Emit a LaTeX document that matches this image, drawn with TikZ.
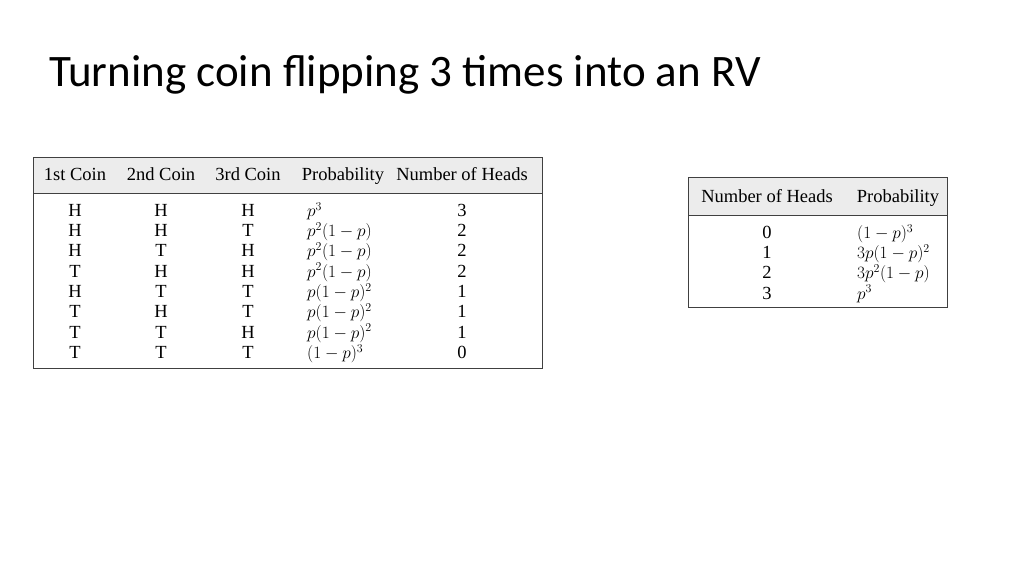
\documentclass[tikz,border=0pt]{standalone}
\usepackage{fontspec}
\setmainfont{Liberation Serif}
\newfontfamily\titlefont{Carlito}
\definecolor{headgray}{RGB}{236,236,236}
\tikzset{
  cell/.style={inner sep=0pt,text height=13pt,text depth=4pt,font=\fontsize{18.5}{20}\selectfont},
  probcell/.style={cell,anchor=west},
  frame/.style={draw=black!75,line width=0.9pt}
}
\begin{document}
\begin{tikzpicture}[x=1pt,y=-1pt]
  \useasboundingbox (0,0) rectangle (1024,576);
  \node[anchor=base west,inner sep=0pt,font=\titlefont\fontsize{45}{50}\selectfont] (title) at (49,86) {Turning coin flipping 3 times into an RV};
  % left table
  \fill[headgray] (33,157) rectangle (542,193);
  \draw[frame] (33,157) rectangle (542,368);
  \draw[frame] (33,193) -- (542,193);
  \node[cell] (h1) at (75,176) {1st Coin};
  \node[cell] (h2) at (161,176) {2nd Coin};
  \node[cell] (h3) at (248,176) {3rd Coin};
  \node[cell] (hp) at (343,176) {Probability};
  \node[cell] (hn) at (462,176) {Number of Heads};
  \foreach \a/\b/\c/\pr/\n [count=\i] in {H/H/H/{$p^3$}/3, H/H/T/{$p^2(1-p)$}/2, H/T/H/{$p^2(1-p)$}/2, T/H/H/{$p^2(1-p)$}/2, H/T/T/{$p(1-p)^2$}/1, T/H/T/{$p(1-p)^2$}/1, T/T/H/{$p(1-p)^2$}/1, T/T/T/{$(1-p)^3$}/0}{
    \node[cell] (a\i) at (75,{191.5+20.3*\i}) {\a};
    \node[cell] (b\i) at (161,{191.5+20.3*\i}) {\b};
    \node[cell] (c\i) at (248,{191.5+20.3*\i}) {\c};
    \node[probcell] (p\i) at (307,{191.5+20.3*\i}) {\pr};
    \node[cell] (n\i) at (462,{191.5+20.3*\i}) {\n};
  }
  % right table
  \fill[headgray] (688,177) rectangle (947,215);
  \draw[frame] (688,177) rectangle (947,307);
  \draw[frame] (688,215) -- (947,215);
  \node[cell] (rh1) at (767,198) {Number of Heads};
  \node[cell] (rh2) at (898,198) {Probability};
  \foreach \n/\pr [count=\i] in {0/{$(1-p)^3$}, 1/{$3p(1-p)^2$}, 2/{$3p^2(1-p)$}, 3/{$p^3$}}{
    \node[cell] (rn\i) at (767,{213.5+20.3*\i}) {\n};
    \node[probcell] (rp\i) at (857,{213.5+20.3*\i}) {\pr};
  }
\end{tikzpicture}
\end{document}
